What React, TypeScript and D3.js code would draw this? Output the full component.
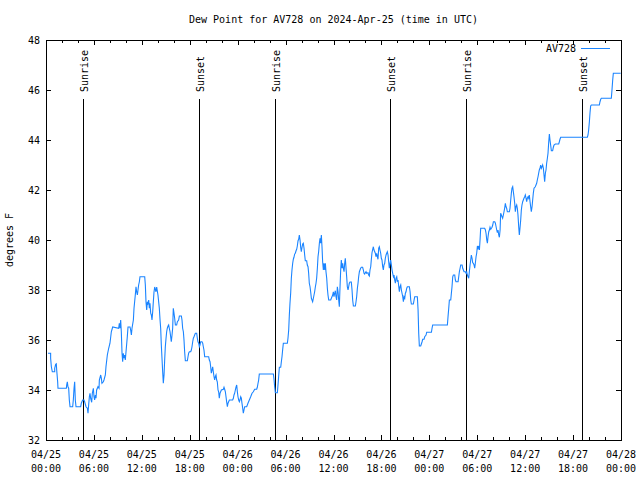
import React from "react";
import * as d3 from "d3";

const title = "Dew Point for AV728 on 2024-Apr-25 (time in UTC)";
const yLabel = "degrees F";
const seriesName = "AV728";

// x ticks every 6 hours from 04/25 00:00 UTC
const tickHours = [0, 6, 12, 18, 24, 30, 36, 42, 48, 54, 60, 66, 72];
const tickDates = ["04/25", "04/25", "04/25", "04/25", "04/26", "04/26", "04/26", "04/26", "04/27", "04/27", "04/27", "04/27", "04/28"];
const tickTimes = ["00:00", "06:00", "12:00", "18:00", "00:00", "06:00", "12:00", "18:00", "00:00", "06:00", "12:00", "18:00", "00:00"];
const yTicks = [32, 34, 36, 38, 40, 42, 44, 46, 48];

// sun events (hours since 04/25 00:00 UTC)
const sunHours = [4.67, 19.2, 28.71, 43.11, 52.63, 67.16];
const sunLabels = ["Sunrise", "Sunset", "Sunrise", "Sunset", "Sunrise", "Sunset"];

// [hours since 04/25 00:00 UTC, dew point °F]
const dewSeries: [number, number][] = [
[0.25,35.47],[0.58,35.47],[0.58,35.27],[0.67,34.93],[0.79,34.73],[1.09,34.73],[1.09,34.87],[1.21,35.03],[1.29,35.05],[1.34,34.8],[1.46,34.33],[1.50,34.07],[2.55,34.07],[2.59,34.2],[2.67,34.33],[2.75,34.13],[2.84,34.07],[2.92,33.6],[3.01,33.33],[3.34,33.33],[3.42,33.6],[3.51,34.07],[3.59,34.33],[3.67,33.6],[3.76,33.33],[4.34,33.33],[4.42,33.47],[4.59,33.6],[4.76,33.6],[4.84,33.53],[5.01,33.33],[5.18,33.27],[5.26,33.07],[5.34,33.4],[5.43,33.73],[5.51,33.87],[5.59,33.67],[5.72,33.51],[5.80,33.87],[5.93,34.07],[6.01,33.73],[6.09,33.6],[6.18,33.8],[6.26,33.67],[6.34,34.0],[6.51,34.13],[6.64,34.07],[6.68,34.4],[6.85,34.6],[6.93,34.47],[7.01,34.27],[7.18,34.33],[7.26,34.4],[7.43,34.6],[7.51,34.93],[7.68,35.4],[7.85,35.67],[8.01,35.87],[8.18,36.33],[8.35,36.52],[9.10,36.47],[9.18,36.67],[9.27,36.47],[9.35,36.8],[9.43,36.33],[9.52,35.47],[9.60,35.13],[9.68,35.47],[9.77,35.27],[9.85,35.4],[9.93,35.2],[10.02,35.53],[10.18,36.13],[10.27,36.52],[10.52,36.52],[10.60,36.4],[10.69,36.2],[10.77,36.47],[10.94,36.8],[11.02,37.27],[11.19,37.83],[11.27,38.13],[11.35,37.93],[11.44,37.8],[11.52,38.0],[11.60,38.2],[11.69,38.33],[11.77,38.53],[12.36,38.53],[12.44,38.2],[12.52,37.53],[12.61,37.2],[12.69,37.53],[12.77,37.47],[12.86,37.6],[12.94,37.27],[13.02,37.47],[13.11,37.07],[13.19,37.0],[13.27,36.8],[13.36,37.13],[13.44,37.53],[13.52,37.91],[13.61,38.12],[13.77,37.93],[13.86,38.12],[14.02,37.8],[14.19,37.27],[14.28,36.8],[14.36,36.47],[14.44,35.8],[14.61,34.73],[14.69,34.27],
[14.78,34.6],[14.86,35.2],[14.94,35.73],[15.03,36.07],[15.11,36.33],[15.19,36.47],[15.28,36.56],[15.36,36.6],[15.44,36.47],[15.53,36.33],[15.61,36.13],[15.69,35.93],[15.78,36.2],[15.86,36.47],[15.94,37.27],[16.03,37.07],[16.11,36.87],[16.20,36.6],[16.36,36.6],[16.45,36.73],[16.61,36.8],[16.70,36.96],[16.95,36.96],[17.03,36.8],[17.11,36.47],[17.20,36.33],[17.28,36.0],[17.36,35.53],[17.45,35.17],[17.70,35.17],[17.78,35.33],[17.86,35.47],[17.95,35.53],[18.12,35.53],[18.20,35.6],[18.28,35.73],[18.37,35.93],[18.45,36.07],[18.53,36.13],[18.70,36.27],[18.87,36.27],[18.95,36.07],[19.03,35.93],[19.12,35.87],[19.20,35.73],[19.28,35.8],[19.37,35.93],[19.53,35.93],[19.62,35.87],[19.70,35.73],[19.78,35.6],[19.87,35.33],[20.37,35.33],[20.45,35.2],[20.54,35.13],[20.62,34.93],[20.70,34.67],[20.79,34.8],[20.87,34.93],[20.95,34.73],[21.04,34.53],[21.12,34.4],[21.20,34.53],[21.29,34.6],[21.37,34.4],[21.45,34.33],[21.54,34.0],[21.62,33.93],[21.70,33.67],[21.79,33.87],[21.87,33.93],[21.96,34.0],[22.21,34.03],[22.29,34.11],[22.37,34.03],[22.46,33.93],[22.54,33.73],[22.62,33.53],[22.71,33.33],[22.79,33.47],[22.87,33.53],[22.96,33.6],[23.37,33.6],[23.46,33.67],[23.54,33.8],[23.62,33.87],[23.71,34.0],[23.79,34.11],[23.88,34.2],[23.96,33.93],[24.04,33.73],[24.13,33.6],[24.21,33.53],[24.29,33.6],[24.38,33.73],[24.46,33.67],[24.54,33.47],[24.63,33.27],[24.71,33.07],[24.79,33.2],[24.88,33.33],[25.13,33.33],[25.29,33.47],[25.46,33.6],[25.63,33.73],[25.80,33.87],[25.96,33.93],[26.13,34.03],[26.38,34.03],[26.46,34.11],[26.55,34.27],[26.63,34.4],[26.71,34.64],[28.47,34.64],
[28.55,34.43],[28.63,34.13],[28.72,33.89],[28.97,33.89],[29.05,34.2],[29.13,34.53],[29.22,34.91],[29.39,34.91],[29.47,35.13],[29.55,35.33],[29.64,35.63],[29.72,35.87],[30.22,35.87],[30.30,36.07],[30.39,36.4],[30.47,37.0],[30.55,37.47],[30.64,37.89],[30.72,38.47],[30.80,38.8],[30.89,39.07],[30.97,39.23],[31.05,39.31],[31.14,39.44],[31.22,39.47],[31.31,39.57],[31.39,39.63],[31.47,39.76],[31.56,39.97],[31.64,40.03],[31.72,40.2],[31.81,40.0],[31.89,39.71],[31.97,39.53],[32.06,39.71],[32.14,39.84],[32.22,39.87],[32.31,39.67],[32.39,39.4],[32.47,39.17],[32.64,39.17],[32.72,39.0],[32.81,38.93],[32.89,38.67],[32.97,38.27],[33.06,38.13],[33.14,37.93],[33.23,37.67],[33.31,37.6],[33.39,37.53],[33.48,37.67],[33.56,37.8],[33.64,37.93],[33.73,38.13],[33.81,38.27],[33.89,38.47],[33.98,38.87],[34.06,39.33],[34.14,39.53],[34.23,39.87],[34.31,40.07],[34.39,39.87],[34.48,40.2],[34.56,39.73],[34.64,39.13],[34.73,38.8],[34.81,39.07],[34.90,38.8],[34.98,39.07],[35.06,38.73],[35.15,38.47],[35.23,38.07],[35.31,37.8],[35.40,37.6],[35.65,37.6],[35.73,37.67],[35.81,37.73],[35.90,37.8],[35.98,37.93],[36.06,37.73],[36.15,37.87],[36.23,37.97],[36.31,37.73],[36.40,37.6],[36.48,38.13],[36.57,37.93],[36.65,37.6],[36.73,37.33],[36.81,38.07],[36.90,38.8],[36.98,39.2],[37.07,38.87],[37.15,39.07],[37.23,38.87],[37.32,38.73],[37.40,39.07],[37.48,39.27],[37.57,38.87],[37.65,38.53],[37.73,38.13],[37.82,38.0],[37.90,38.13],[37.98,38.27],[38.07,38.32],[38.23,38.32],[38.32,38.0],[38.40,37.6],[38.49,37.36],[38.74,37.36],[38.82,37.53],[38.90,37.73],[38.99,38.07],[39.07,38.27],[39.15,38.53],[39.24,38.73],[39.32,38.8],[39.40,38.87],[39.49,38.91],[39.65,38.91],[39.74,38.8],[39.82,38.67],[39.90,38.64],[39.99,38.69],[40.07,38.73],[40.15,38.67],[40.32,38.69],[40.40,38.6],[40.49,38.56],[40.57,38.8],[40.66,38.93],[40.74,39.23],[40.82,39.49],[40.91,39.63],[40.99,39.73],[41.07,39.6],[41.16,39.53],[41.24,39.47],[41.32,39.33],[41.41,39.47],[41.49,39.33],[41.57,39.23],[41.66,39.67],[41.74,39.73],[41.82,39.6],[41.91,39.47],[41.99,39.27],[42.07,39.2],[42.16,38.93],[42.24,38.8],[42.32,39.0],[42.41,39.07],[42.49,39.27],[42.58,39.4],[42.66,39.47],[42.74,39.53],[42.83,39.4],
[42.91,39.13],[42.99,38.87],[43.08,39.07],[43.16,39.2],[43.25,39.0],[43.33,38.8],[43.41,38.67],[43.50,38.53],[43.58,38.6],[43.66,38.4],[43.75,38.27],[43.83,38.47],[43.92,38.53],[44.00,38.33],[44.08,38.4],[44.17,38.13],[44.25,37.93],[44.33,38.13],[44.42,38.2],[44.50,38.0],[44.58,37.87],[44.67,37.73],[44.75,37.53],[44.83,37.73],[44.92,37.67],[45.00,37.87],[45.08,37.93],[45.17,38.07],[45.25,38.13],[45.50,38.13],[45.59,37.93],[45.67,37.6],[45.75,37.44],[46.00,37.44],[46.09,37.6],[46.17,37.73],[46.50,37.73],[46.59,37.2],[46.67,36.27],[46.75,35.76],[46.92,35.76],[47.00,35.84],[47.09,35.93],[47.17,36.03],[47.34,36.03],[47.42,36.13],[47.59,36.2],[47.67,36.31],[48.26,36.31],[48.34,36.47],[48.42,36.6],[50.26,36.6],[50.34,36.93],[50.43,37.27],[50.51,37.6],[50.68,37.6],[50.76,37.87],[50.84,38.13],[50.93,38.53],[51.01,38.6],[51.18,38.6],[51.26,38.4],[51.34,38.33],[51.60,38.33],[51.68,38.53],[51.76,38.73],[51.85,38.87],[51.93,39.0],[52.10,39.0],[52.18,38.87],[52.35,38.73],[52.51,38.73],[52.60,38.67],[52.68,38.73],[52.76,38.6],[52.85,38.53],[52.93,38.47],[53.01,38.73],[53.10,39.0],[53.18,39.2],[53.26,39.4],[53.35,39.27],[53.43,39.09],[53.51,39.07],[53.60,39.0],[53.68,38.87],[53.76,39.07],[53.85,39.33],[53.93,39.47],[54.02,39.76],[54.10,39.67],[54.18,39.76],[54.27,39.6],[54.35,40.0],[54.43,40.47],[54.93,40.47],[55.02,40.4],[55.10,40.27],[55.19,40.0],[55.27,39.87],[55.35,40.13],[55.44,40.33],[55.52,40.4],[55.60,40.51],[55.69,40.43],[55.85,40.51],[55.94,40.6],[56.02,40.73],[56.19,40.73],[56.27,40.67],[56.36,40.53],[56.44,40.4],[56.52,40.29],[56.60,40.4],[56.69,40.2],[56.77,40.11],[56.86,40.4],
[56.93,41.07],[57.02,41.0],[57.10,40.93],[57.18,40.87],[57.27,41.0],[57.35,41.13],[57.43,41.27],[57.52,41.47],[57.60,41.33],[57.68,41.27],[57.77,41.13],[58.02,41.13],[58.10,41.27],[58.19,41.6],[58.27,41.87],[58.35,42.07],[58.44,42.13],[58.52,41.93],[58.60,41.73],[58.69,41.47],[58.77,41.13],[58.85,41.33],[58.94,41.4],[59.02,41.27],[59.10,41.0],[59.19,40.53],[59.27,40.2],[59.35,40.47],[59.44,40.8],[59.52,41.2],[59.60,41.4],[59.69,41.53],[59.77,41.6],[59.85,41.67],[59.94,41.73],[60.02,41.8],[60.11,41.67],[60.19,41.53],[60.27,41.67],[60.36,41.73],[60.44,41.67],[60.52,41.8],[60.61,41.53],[60.69,41.33],[60.77,41.13],[60.86,41.33],[60.94,41.6],[61.02,41.87],[61.11,42.07],[61.27,42.13],[61.44,42.27],[61.52,42.4],[61.61,42.53],[61.69,42.67],[61.77,42.8],[61.86,42.87],[61.94,43.0],[62.03,42.87],[62.11,42.93],[62.19,43.0],[62.28,42.87],[62.36,42.6],[62.44,42.33],[62.53,42.67],[62.61,42.8],[62.69,43.07],[62.78,43.27],[62.86,43.47],[62.94,43.87],[63.03,44.24],[63.11,44.0],[63.19,43.8],[63.28,43.57],[63.44,43.57],[63.53,43.71],[63.61,43.8],[63.78,43.84],[64.20,43.84],[64.28,43.93],[64.36,44.03],[64.45,44.11],[67.79,44.11],[67.87,44.2],[67.95,44.4],[68.04,44.73],[68.12,45.09],[68.20,45.36],[68.29,45.4],[69.29,45.4],[69.37,45.53],[69.46,45.63],[69.54,45.67],[70.79,45.67],[70.87,46.0],[70.96,46.4],[71.04,46.67],[71.96,46.67]
];

const W = 640, H = 480;
const M = { left: 46, right: 621, top: 40, bottom: 440 };
const FONT = "'DejaVu Sans Mono', 'Liberation Mono', monospace";
const LINE = "#1a84ff";

export default function App() {
  const x = d3.scaleLinear().domain([0, 72]).range([M.left, M.right]);
  const y = d3.scaleLinear().domain([32, 48]).range([M.bottom, M.top]);
  const line = d3.line<[number, number]>().x(d => x(d[0])).y(d => y(d[1]));
  const minorHours = d3.range(0, 73, 2).filter(h => h % 6 !== 0);
  const major = 5, minor = 3;

  return (
    <svg width={W} height={H} style={{ position: "absolute", left: 0, top: 0, background: "#fff" }}
      fontFamily={FONT} fontSize={10} shapeRendering="crispEdges">
      <rect x={0} y={0} width={W} height={H} fill="#fff" />
      <text x={(M.left + M.right) / 2} y={23} textAnchor="middle">{title}</text>
      <text transform={`translate(13,${(M.top + M.bottom) / 2}) rotate(-90)`} textAnchor="middle">{yLabel}</text>

      {/* y ticks */}
      {yTicks.map(v => (
        <g key={"y" + v}>
          <line x1={M.left} x2={M.left + major} y1={y(v) + 0.5} y2={y(v) + 0.5} stroke="#000" />
          <line x1={M.right - major} x2={M.right} y1={y(v) + 0.5} y2={y(v) + 0.5} stroke="#000" />
          <text x={40} y={y(v) + 4} textAnchor="end">{v}</text>
        </g>
      ))}

      {/* x ticks */}
      {tickHours.map((h, i) => (
        <g key={"x" + h}>
          <line x1={Math.round(x(h)) + 0.5} x2={Math.round(x(h)) + 0.5} y1={M.bottom} y2={M.bottom - major} stroke="#000" />
          <line x1={Math.round(x(h)) + 0.5} x2={Math.round(x(h)) + 0.5} y1={M.top} y2={M.top + major} stroke="#000" />
          <text x={x(h)} y={458} textAnchor="middle">{tickDates[i]}</text>
          <text x={x(h)} y={472} textAnchor="middle">{tickTimes[i]}</text>
        </g>
      ))}
      {minorHours.map(h => (
        <g key={"m" + h}>
          <line x1={Math.round(x(h)) + 0.5} x2={Math.round(x(h)) + 0.5} y1={M.bottom} y2={M.bottom - minor} stroke="#000" />
          <line x1={Math.round(x(h)) + 0.5} x2={Math.round(x(h)) + 0.5} y1={M.top} y2={M.top + minor} stroke="#000" />
        </g>
      ))}

      {/* sun lines */}
      {sunHours.map((h, i) => (
        <g key={"s" + i}>
          <line x1={Math.round(x(h)) + 0.5} x2={Math.round(x(h)) + 0.5} y1={99} y2={M.bottom} stroke="#000" />
          <text transform={`translate(${x(h) + 5},92) rotate(-90)`} textAnchor="start">{sunLabels[i]}</text>
        </g>
      ))}

      <path d={line(dewSeries) ?? ""} fill="none" stroke={LINE} strokeWidth={1.1} shapeRendering="auto" />

      {/* legend */}
      <text x={576} y={52} textAnchor="end">{seriesName}</text>
      <line x1={581} x2={610} y1={48.5} y2={48.5} stroke={LINE} />

      <rect x={M.left + 0.5} y={M.top + 0.5} width={M.right - M.left} height={M.bottom - M.top} fill="none" stroke="#000" />
    </svg>
  );
}
